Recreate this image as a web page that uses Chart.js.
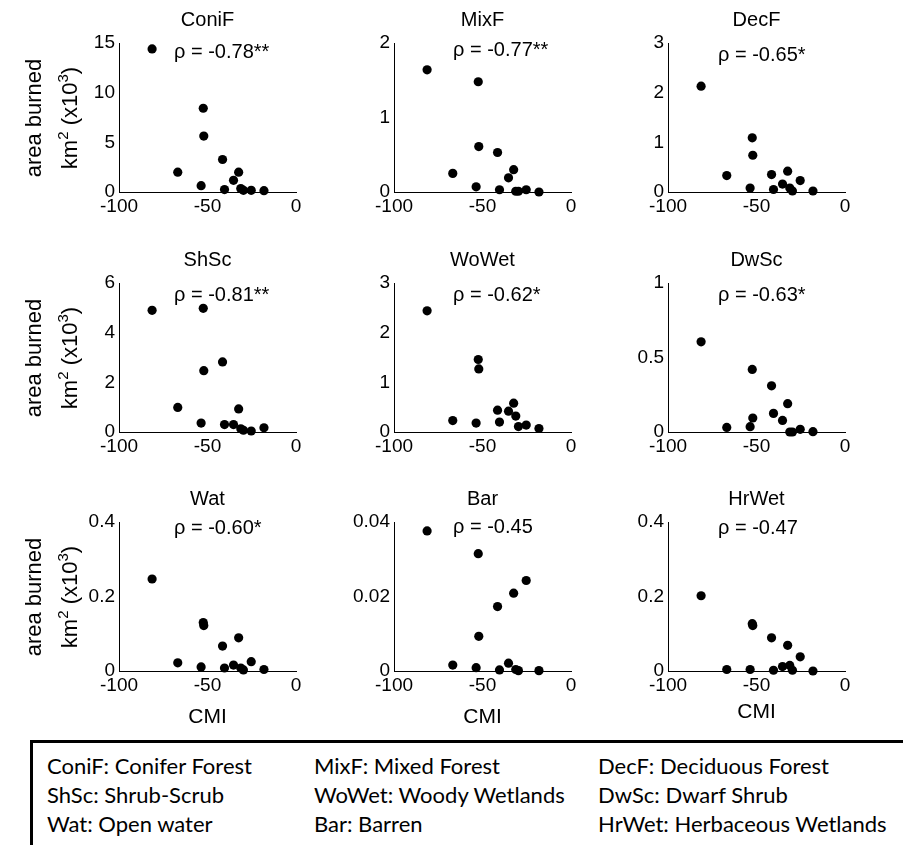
<!DOCTYPE html>
<html><head><meta charset="utf-8">
<script src="https://cdn.jsdelivr.net/npm/chart.js@4/dist/chart.umd.min.js"></script>
<style>
html,body{margin:0;padding:0;background:#fff}
body{width:903px;height:845px;overflow:hidden;position:relative;font-family:"Liberation Sans",Arial,sans-serif;color:#000}
canvas.pc{position:absolute}
.ytitle{position:absolute;width:200px;height:72px;line-height:36px;text-align:center;font-size:22px;transform:rotate(-90deg);white-space:nowrap}
.ytitle sup{font-size:15px;vertical-align:9px;line-height:0}
.xtitle{position:absolute;width:80px;text-align:center;font-size:21px;line-height:24px}
.legend{position:absolute;left:30px;top:740px;width:1000px;height:200px;border:3px solid #000;box-sizing:border-box;font-family:Lato,"Open Sans",sans-serif;font-size:22px}
.legend div{position:absolute;white-space:nowrap;line-height:24px}
</style>
</head><body>
<script>
// ---------- data ----------
const panelNames = ['ConiF','MixF','DecF','ShSc','WoWet','DwSc','Wat','Bar','HrWet'];
const rhoLabels = ['\u03C1 = -0.78**','\u03C1 = -0.77**','\u03C1 = -0.65*','\u03C1 = -0.81**','\u03C1 = -0.62*','\u03C1 = -0.63*','\u03C1 = -0.60*','\u03C1 = -0.45','\u03C1 = -0.47'];
const cmi = [-81.3,-66.8,-52.4,-52.1,-53.6,-41.5,-40.4,-35.3,-32.4,-31.2,-29.7,-25.3,-18.1];
const coniF = [14.4,2.0,8.43,5.63,0.64,3.27,0.24,1.18,2.0,0.34,0.17,0.17,0.13];
const mixF  = [1.64,0.25,1.48,0.61,0.07,0.53,0.03,0.19,0.30,0.01,0.01,0.03,0.0];
const decF  = [2.13,0.33,1.09,0.74,0.08,0.35,0.05,0.16,0.42,0.08,0.02,0.23,0.02];
const shSc  = [4.90,0.99,4.98,2.47,0.36,2.82,0.30,0.30,0.93,0.13,0.07,0.04,0.17];
const woWet = [2.44,0.23,1.46,1.27,0.18,0.44,0.20,0.42,0.58,0.32,0.11,0.14,0.07];
const dwSc  = [0.605,0.031,0.42,0.094,0.036,0.31,0.125,0.078,0.19,0.0,0.0,0.018,0.002];
const wat   = [0.247,0.022,0.130,0.122,0.011,0.067,0.008,0.016,0.089,0.008,0.003,0.025,0.004];
const bar   = [0.0376,0.0016,0.0315,0.0093,0.0009,0.0173,0.0003,0.0021,0.0209,0.0004,0.0001,0.0243,0.0001];
const hrWet = [0.202,0.004,0.127,0.122,0.004,0.089,0.002,0.012,0.069,0.015,0.002,0.038,0.0];
const xTicks = [-100,-50,0];
const yTicks = [[0,5,10,15],[0,1,2],[0,1,2,3],[0,2,4,6],[0,1,2,3],[0,0.5,1],[0,0.2,0.4],[0,0.02,0.04],[0,0.2,0.4]];
const legendItems = [
  ['ConiF: Conifer Forest','MixF: Mixed Forest','DecF: Deciduous Forest'],
  ['ShSc: Shrub-Scrub','WoWet: Woody Wetlands','DwSc: Dwarf Shrub'],
  ['Wat: Open water','Bar: Barren','HrWet: Herbaceous Wetlands']
];
const yTitle1 = 'area burned';
const xTitle = 'CMI';
const series = [coniF,mixF,decF,shSc,woWet,dwSc,wat,bar,hrWet];

// ---------- layout ----------
const colLeft = [119,394,668], rowTop = [43,283,522];
const PW = 177, PH = 149;
const PADL = 110, PADT = 45, PADR = 25, PADB = 40;
const rhoPos = [[55,9],[59,7],[50,12],[55,12],[59,12],[50,12],[55,6],[59,5],[50,6]];
const FONT = '"Liberation Sans", Arial, sans-serif';

const textPlugin = {
  id:'panelText',
  afterDatasetsDraw(chart, args, opts){
    const {ctx, chartArea:a} = chart;
    ctx.save();
    ctx.fillStyle = '#000';
    ctx.textBaseline = 'middle';
    ctx.font = '20px ' + FONT;
    ctx.textAlign = 'center';
    ctx.fillText(opts.title, (a.left + a.right)/2, a.top - 23);
    ctx.textAlign = 'left';
    ctx.fillText(opts.rho, a.left + opts.rx, a.top + opts.ry);
    ctx.restore();
  }
};

for (let i = 0; i < 9; i++) {
  const r = Math.floor(i/3), c = i%3;
  const cv = document.createElement('canvas');
  cv.className = 'pc';
  const W = PADL + PW + PADR, H = PADT + PH + PADB;
  cv.width = W; cv.height = H;
  cv.style.left = (colLeft[c] - PADL) + 'px';
  cv.style.top = (rowTop[r] - PADT) + 'px';
  cv.style.width = W + 'px'; cv.style.height = H + 'px';
  document.body.appendChild(cv);
  const yt = yTicks[i];
  new Chart(cv, {
    type:'scatter',
    data:{datasets:[{
      data: cmi.map((x,k)=>({x:x, y:series[i][k]})),
      pointRadius:4.6, pointBackgroundColor:'#000', pointBorderWidth:0,
      pointHoverRadius:4.6, clip:false
    }]},
    options:{
      responsive:false, animation:false, devicePixelRatio:1, events:[],
      layout:{padding:{left:0,top:PADT,right:PADR,bottom:0}},
      plugins:{legend:{display:false}, tooltip:{enabled:false},
        panelText:{title:panelNames[i], rho:rhoLabels[i], rx:rhoPos[i][0], ry:rhoPos[i][1]}},
      scales:{
        x:{type:'linear', min:xTicks[0], max:xTicks[xTicks.length-1],
          afterFit(s){s.height = PADB;},
          afterBuildTicks(s){s.ticks = xTicks.map(v=>({value:v}));},
          ticks:{color:'#000', padding:3, maxRotation:0, autoSkip:false, font:{size:19, family:FONT},
            callback:(v)=>String(v)},
          grid:{display:false, drawTicks:false},
          border:{display:true, color:'#000', width:1}},
        y:{type:'linear', min:yt[0], max:yt[yt.length-1],
          afterFit(s){s.width = PADL;},
          afterBuildTicks(s){s.ticks = yt.map(v=>({value:v}));},
          ticks:{color:'#000', padding:4, autoSkip:false, font:{size:19, family:FONT},
            callback:(v)=>String(v)},
          grid:{display:false, drawTicks:false},
          border:{display:true, color:'#000', width:1}}
      }
    },
    plugins:[textPlugin]
  });
}

// y titles
for (let r = 0; r < 3; r++) {
  const d = document.createElement('div');
  d.className = 'ytitle';
  d.style.left = (52 - 100) + 'px';
  d.style.top = (rowTop[r] + PH/2 - 36) + 'px';
  d.innerHTML = yTitle1 + '<br>km<sup>2</sup> (x10<sup>3</sup>)';
  document.body.appendChild(d);
}
// x titles
const xtTop = [704,704,699];
for (let c = 0; c < 3; c++) {
  const d = document.createElement('div');
  d.className = 'xtitle';
  d.style.left = (colLeft[c] + PW/2 - 40) + 'px';
  d.style.top = xtTop[c] + 'px';
  d.textContent = xTitle;
  document.body.appendChild(d);
}
// legend
const lg = document.createElement('div');
lg.className = 'legend';
const lgCols = [14,281,565], lgRows = [11,40,69];
legendItems.forEach((row,ri)=>row.forEach((t,ci)=>{
  const s = document.createElement('div');
  s.style.left = lgCols[ci] + 'px';
  s.style.top = lgRows[ri] + 'px';
  s.textContent = t;
  lg.appendChild(s);
}));
document.body.appendChild(lg);
</script>
</body></html>
